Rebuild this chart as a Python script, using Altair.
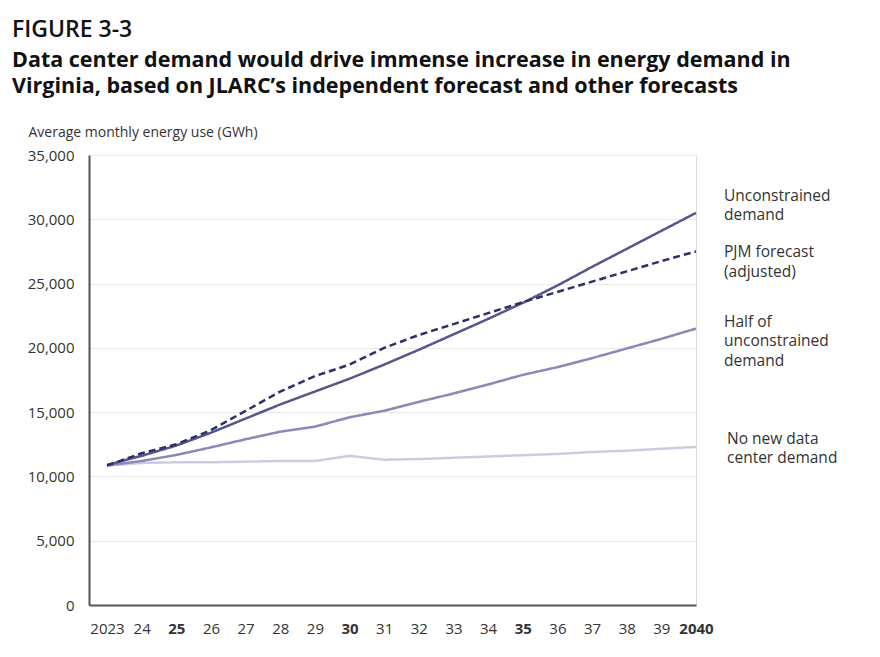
import altair as alt
import pandas as pd

years = list(range(2023, 2041))
unconstrained = [10900, 11600, 12400, 13400, 14500, 15600, 16600, 17600, 18700,
                 19850, 21050, 22250, 23500, 24850, 26300, 27700, 29100, 30500]
pjm = [10850, 11800, 12500, 13600, 15100, 16600, 17800, 18700, 20000,
       21000, 21850, 22700, 23550, 24350, 25150, 25950, 26750, 27500]
half = [10850, 11200, 11670, 12260, 12890, 13480, 13870, 14600, 15110,
        15800, 16450, 17150, 17900, 18500, 19200, 19950, 20700, 21500]
no_new = [10850, 11050, 11100, 11100, 11150, 11200, 11200, 11600, 11300,
          11350, 11450, 11550, 11650, 11750, 11900, 12000, 12150, 12300]

series_names = ["No new data center demand", "Half of unconstrained demand",
                "Unconstrained demand", "PJM forecast (adjusted)"]
series_values = [no_new, half, unconstrained, pjm]
label_texts = ["No new data\ncenter demand", "Half of\nunconstrained\ndemand",
               "Unconstrained\ndemand", "PJM forecast\n(adjusted)"]
colors = ["#cdcbe2", "#8c88b8", "#57568c", "#2c2f6a"]
dashes = [[1, 0], [1, 0], [1, 0], [7, 4]]
widths = [2.5, 2.5, 2.5, 3]
label_dy = [-8, -7, -17, 1]
label_dx = [31, 28, 28, 28]

rows = []
for name, vals in zip(series_names, series_values):
    for yr, v in zip(years, vals):
        rows.append({"year": yr, "value": v, "series": name})
df = pd.DataFrame(rows)

FONT = "Open Sans"

x_enc = alt.X("year:Q",
              scale=alt.Scale(domain=[2022.48, 2040], nice=False, zero=False),
              axis=alt.Axis(values=years, title=None, ticks=False, grid=False,
                            labelExpr="datum.value == 2023 || datum.value == 2040 ? toString(datum.value) : substring(toString(datum.value), 2)",
                            labelFont=FONT, labelFontSize=15, labelColor="#333",
                            labelFontWeight={"condition": {"test": "datum.value == 2025 || datum.value == 2030 || datum.value == 2035 || datum.value == 2040", "value": "bold"}, "value": "normal"},
                            labelPadding=16, labelFlush=False, labelOverlap=False,
                            labelSeparation=0, labelBound=False,
                            domainColor="#555", domainWidth=2))
y_enc = alt.Y("value:Q",
              scale=alt.Scale(domain=[0, 35000], nice=False),
              axis=alt.Axis(values=list(range(0, 35001, 5000)),
                            labelExpr="format(datum.value, ',')",
                            title="Average monthly energy use (GWh)",
                            titleAngle=0, titleX=-61, titleY=-23, titleAlign="left",
                            titleBaseline="middle", titleFont=FONT, titleFontSize=14,
                            titleFontWeight="normal", titleColor="#333",
                            labelFont=FONT, labelFontSize=15, labelColor="#333",
                            labelPadding=15, ticks=False, domainColor="#555",
                            domainWidth=2, grid=True, gridColor="#e9e9e9", gridWidth=1))

lines = alt.Chart(df).mark_line(strokeCap="butt").encode(
    x=x_enc,
    y=y_enc,
    color=alt.Color("series:N", scale=alt.Scale(domain=series_names, range=colors), legend=None),
    strokeDash=alt.StrokeDash("series:N", scale=alt.Scale(domain=series_names, range=dashes), legend=None),
    strokeWidth=alt.StrokeWidth("series:N", scale=alt.Scale(domain=series_names, range=widths), legend=None),
    order=alt.Order("year:Q"),
)

layers = [lines]
for name, vals, txt, dy, dx in zip(series_names, series_values, label_texts, label_dy, label_dx):
    ldf = pd.DataFrame([{"year": years[-1], "value": vals[-1], "label": txt}])
    layers.append(
        alt.Chart(ldf).mark_text(align="left", baseline="middle", dx=dx, dy=dy,
                                 font=FONT, fontSize=15.5, color="#333",
                                 lineBreak="\n", lineHeight=19.5).encode(
            x=x_enc, y=y_enc, text="label:N")
    )

chart = alt.layer(*layers).properties(
    width=607, height=450,
    title=alt.TitleParams(
        text="FIGURE 3-3",
        subtitle=["Data center demand would drive immense increase in energy demand in",
                  "Virginia, based on JLARC’s independent forecast and other forecasts"],
        anchor="start", frame="group", dx=-77, offset=28,
        font=FONT, fontSize=23, fontWeight=600, color="#111",
        subtitleFont=FONT, subtitleFontSize=21.5, subtitleFontWeight="bold",
        subtitleColor="#111", subtitleLineHeight=26, subtitlePadding=8),
    padding={"left": 81, "top": 147, "right": 176, "bottom": 44},
    autosize=alt.AutoSizeParams(type="none"),
).configure_view(stroke=None).configure(background="white")

chart.save("out.html", embed_options={"renderer": "svg", "actions": False})
